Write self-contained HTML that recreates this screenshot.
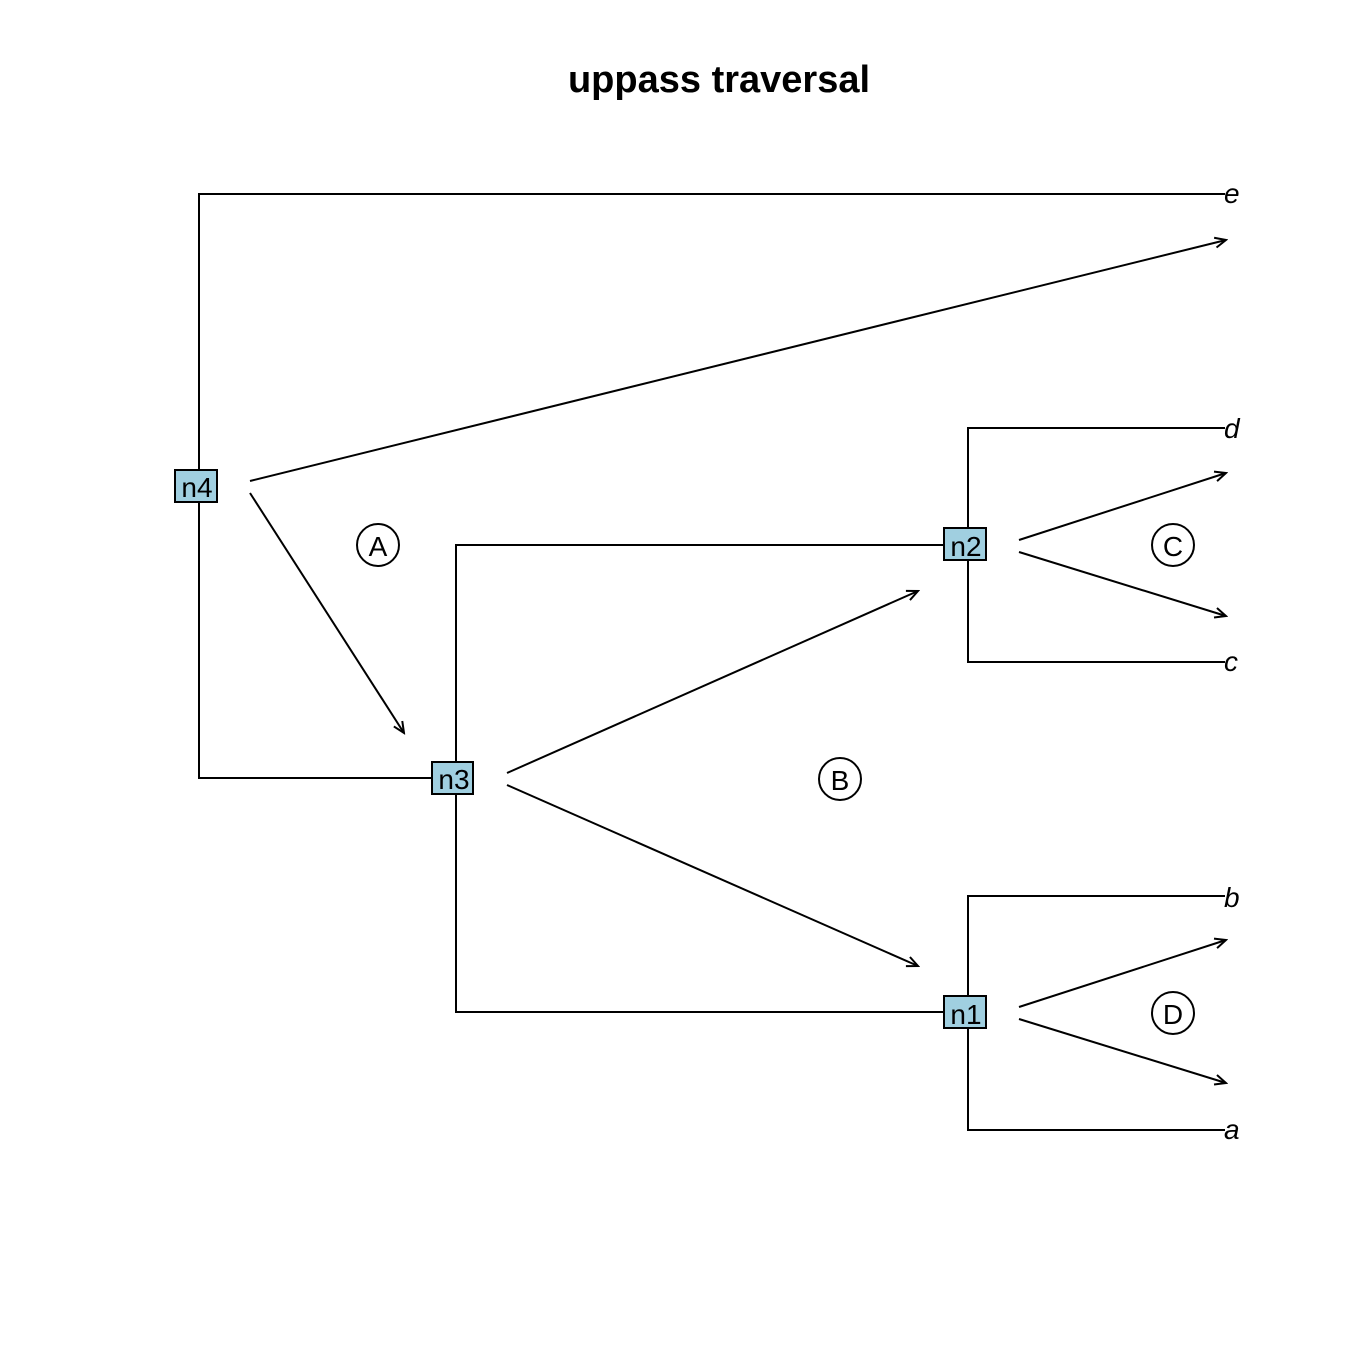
<!DOCTYPE html>
<html><head><meta charset="utf-8"><style>body{margin:0;background:#fff}svg{display:block}</style></head>
<body>
<svg width="1363" height="1363" viewBox="0 0 1363 1363" xmlns="http://www.w3.org/2000/svg">
<defs><marker id="ar" markerWidth="14" markerHeight="14" refX="12" refY="7" orient="auto" markerUnits="userSpaceOnUse"><path d="M1,2 L12,7 L1,12" fill="none" stroke="#000" stroke-width="2"/></marker></defs>
<text x="719" y="92" font-family="Liberation Sans, sans-serif" font-size="38" font-weight="bold" text-anchor="middle">uppass traversal</text>
<g stroke="#000" stroke-width="2" fill="none">
<polyline points="1225,194 199,194 199,778 456,778"/>
<polyline points="968,545 456,545 456,1012 968,1012"/>
<polyline points="1225,428 968,428 968,662 1225,662"/>
<polyline points="1225,896 968,896 968,1130 1225,1130"/>
<g marker-end="url(#ar)">
<line x1="250" y1="481" x2="1226" y2="240"/>
<line x1="250" y1="493" x2="404" y2="733"/>
<line x1="507" y1="773" x2="918" y2="591"/>
<line x1="507" y1="785" x2="918" y2="966"/>
<line x1="1019" y1="540" x2="1226" y2="473"/>
<line x1="1019" y1="552" x2="1226" y2="616"/>
<line x1="1019" y1="1007" x2="1226" y2="940"/>
<line x1="1019" y1="1019" x2="1226" y2="1083"/>
</g>
<circle cx="378" cy="545" r="21"/><circle cx="840" cy="779" r="21"/>
<circle cx="1173" cy="545" r="21"/><circle cx="1173" cy="1013" r="21"/>
</g>
<g fill="#a0cfe0" stroke="#000" stroke-width="2">
<rect x="175" y="470" width="42" height="32"/><rect x="432" y="762" width="41" height="32"/>
<rect x="944" y="528" width="42" height="32"/><rect x="944" y="996" width="42" height="32"/>
</g>
<g font-family="Liberation Sans, sans-serif" font-size="28" text-anchor="middle">
<text x="197" y="497">n4</text><text x="454" y="789">n3</text>
<text x="966" y="556">n2</text><text x="966" y="1024">n1</text>
<text x="378" y="556">A</text><text x="840" y="790">B</text>
<text x="1173" y="556">C</text><text x="1173" y="1024">D</text>
</g>
<g font-family="Liberation Sans, sans-serif" font-size="28" font-style="italic">
<text x="1224" y="203">e</text><text x="1224" y="438">d</text><text x="1224" y="671">c</text>
<text x="1224" y="907">b</text><text x="1224" y="1139">a</text>
</g>
</svg>
</body></html>
